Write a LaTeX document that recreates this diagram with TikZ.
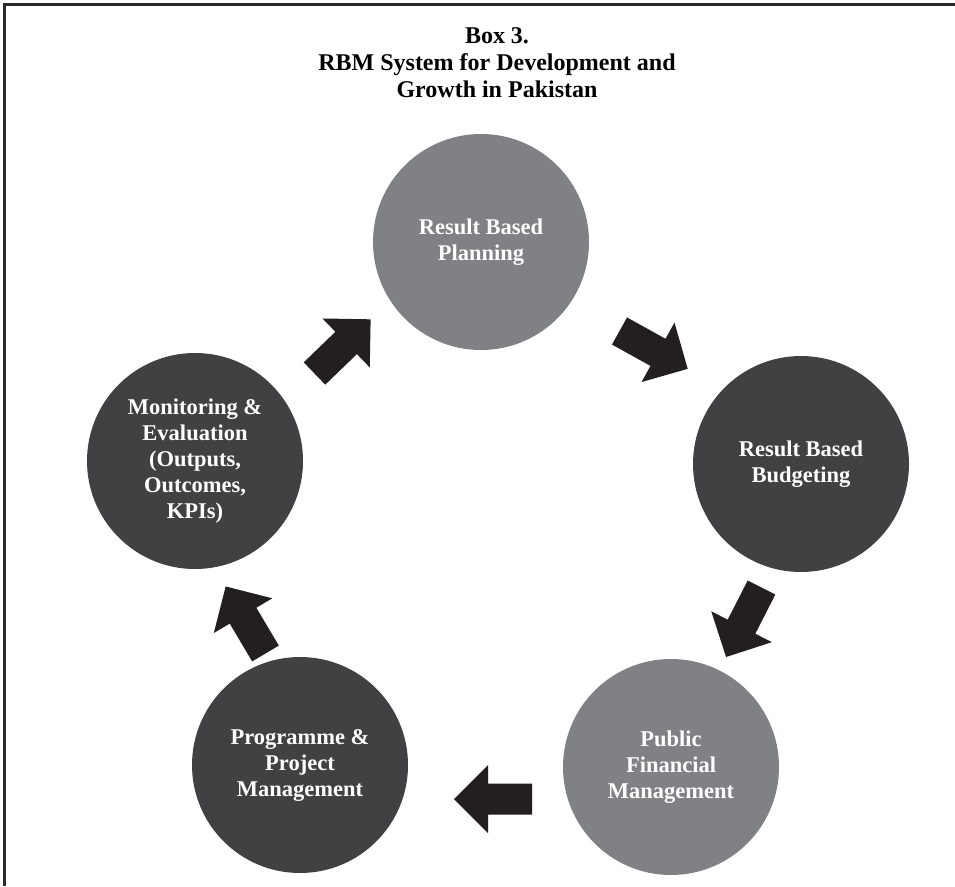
\documentclass[tikz,border=0pt]{standalone}
\usepackage{fontspec}
\setmainfont{Liberation Serif}
\definecolor{lightc}{HTML}{808184}
\definecolor{darkc}{HTML}{414143}
\definecolor{arrowc}{HTML}{231F20}
\definecolor{framec}{HTML}{2B2B2B}
\begin{document}
\begin{tikzpicture}[x=1pt,y=-1pt,
  stage/.style={circle,minimum size=216pt,inner sep=0pt,text=white,align=center,
    font=\fontsize{22.5}{26}\selectfont\bfseries},
  lightstage/.style={stage,fill=lightc},
  darkstage/.style={stage,fill=darkc},
  titletext/.style={align=center,font=\fontsize{24}{27}\selectfont\bfseries,text=black},
  blockarrow/.pic={\fill[arrowc] (0,-15.5) -- (44,-15.5) -- (44,-34) -- (78,0) -- (44,34) -- (44,15.5) -- (0,15.5) -- cycle;}
]
\useasboundingbox (0,0) rectangle (955,886);
\fill[white] (0,0) rectangle (955,886);
\draw[framec,line width=3pt] (4.5,886) -- (4.5,4.5) -- (955,4.5);

\node[titletext] (title) at (497,63) {Box 3.\\RBM System for Development and\\Growth in Pakistan};

\node[lightstage] (plan) at (481,242) {Result Based\\Planning};
\node[darkstage] (budget) at (801,464) {Result Based\\Budgeting};
\node[lightstage] (pfm) at (671,767) {Public\\Financial\\Management};
\node[darkstage] (ppm) at (300,765) {Programme \&\\Project\\Management};
\node[darkstage] (me) at (195,461) {Monitoring \&\\Evaluation\\(Outputs,\\Outcomes,\\KPIs)};

\coordinate (a1) at (314.5,373.5);
\coordinate (a2) at (619.5,331);
\coordinate (a3) at (761.5,587.5);
\coordinate (a4) at (532,799);
\coordinate (a5) at (265.5,653.5);
\pic[rotate=44] at (a1) {blockarrow};
\pic[rotate=-29] at (a2) {blockarrow};
\pic[rotate=-117] at (a3) {blockarrow};
\pic[rotate=180] at (a4) {blockarrow};
\pic[rotate=120.7] at (a5) {blockarrow};
\end{tikzpicture}
\end{document}
